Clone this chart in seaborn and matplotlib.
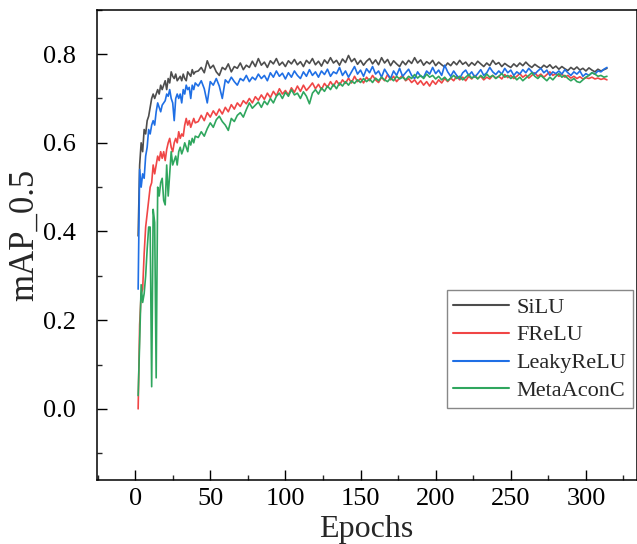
import pandas as pd
import seaborn as sns
import matplotlib
matplotlib.use("Agg")
import matplotlib.pyplot as plt
from matplotlib.ticker import MultipleLocator

# --- DONNEES ---
epochs = list(range(2, 41)) + list(range(42, 315, 2))

silu = [
    0.39, 0.55, 0.60, 0.58, 0.63, 0.62, 0.65, 0.66, 0.68, 0.70,
    0.71, 0.70, 0.71, 0.72, 0.71, 0.73, 0.72, 0.73, 0.74, 0.72,
    0.745, 0.735, 0.76, 0.75, 0.745, 0.755, 0.74, 0.745, 0.75, 0.74,
    0.755, 0.745, 0.74, 0.76, 0.755, 0.75, 0.765, 0.755, 0.76,
    0.762, 0.770, 0.758, 0.785, 0.768, 0.775, 0.760, 0.752, 0.770, 0.765,
    0.778, 0.760, 0.772, 0.768, 0.780, 0.765, 0.775, 0.770, 0.784, 0.772,
    0.790, 0.775, 0.782, 0.770, 0.785, 0.778, 0.790, 0.775, 0.782, 0.772,
    0.785, 0.778, 0.788, 0.776, 0.783, 0.772, 0.786, 0.779, 0.790, 0.776,
    0.784, 0.773, 0.787, 0.779, 0.792, 0.780, 0.786, 0.775, 0.789, 0.781,
    0.797, 0.783, 0.790, 0.777, 0.786, 0.775, 0.784, 0.790, 0.778, 0.787,
    0.776, 0.792, 0.780, 0.788, 0.774, 0.785, 0.778, 0.772, 0.784, 0.776,
    0.786, 0.779, 0.792, 0.780, 0.787, 0.775, 0.783, 0.778, 0.786, 0.774,
    0.782, 0.776, 0.771, 0.780, 0.774, 0.783, 0.776, 0.786, 0.777, 0.782,
    0.773, 0.781, 0.775, 0.784, 0.778, 0.772, 0.780, 0.774, 0.786, 0.777,
    0.781, 0.772, 0.779, 0.774, 0.770, 0.778, 0.772, 0.780, 0.774, 0.782,
    0.775, 0.770, 0.777, 0.772, 0.768, 0.775, 0.770, 0.776, 0.768, 0.773,
    0.766, 0.772, 0.767, 0.763, 0.770, 0.765, 0.771, 0.764, 0.768, 0.762,
    0.769, 0.764, 0.760, 0.766, 0.762, 0.765, 0.768,
]

frelu = [
    0.00, 0.19, 0.26, 0.27, 0.35, 0.41, 0.44, 0.47, 0.50, 0.51,
    0.55, 0.53, 0.55, 0.57, 0.56, 0.58, 0.565, 0.58, 0.56, 0.585,
    0.60, 0.61, 0.59, 0.58, 0.60, 0.61, 0.60, 0.625, 0.61, 0.62,
    0.615, 0.64, 0.655, 0.64, 0.65, 0.635, 0.645, 0.655, 0.645,
    0.648, 0.662, 0.650, 0.668, 0.658, 0.672, 0.662, 0.676, 0.665, 0.680,
    0.670, 0.686, 0.676, 0.690, 0.682, 0.695, 0.688, 0.700, 0.690, 0.704,
    0.696, 0.708, 0.698, 0.712, 0.702, 0.716, 0.706, 0.722, 0.710, 0.718,
    0.708, 0.724, 0.714, 0.728, 0.716, 0.730, 0.718, 0.726, 0.735, 0.722,
    0.732, 0.720, 0.734, 0.725, 0.738, 0.728, 0.740, 0.730, 0.742, 0.734,
    0.746, 0.735, 0.750, 0.738, 0.745, 0.735, 0.748, 0.740, 0.752, 0.742,
    0.736, 0.748, 0.740, 0.754, 0.742, 0.750, 0.738, 0.746, 0.752, 0.740,
    0.745, 0.736, 0.742, 0.732, 0.740, 0.730, 0.738, 0.728, 0.740, 0.732,
    0.742, 0.735, 0.745, 0.738, 0.746, 0.740, 0.750, 0.742, 0.748, 0.740,
    0.750, 0.744, 0.752, 0.745, 0.750, 0.742, 0.748, 0.744, 0.752, 0.746,
    0.750, 0.744, 0.754, 0.747, 0.752, 0.745, 0.750, 0.756, 0.748, 0.753,
    0.746, 0.752, 0.758, 0.750, 0.755, 0.748, 0.754, 0.760, 0.752, 0.756,
    0.750, 0.755, 0.748, 0.752, 0.746, 0.750, 0.745, 0.749, 0.744, 0.747,
    0.745, 0.748, 0.744, 0.746, 0.743, 0.745, 0.742,
]

leaky = [
    0.27, 0.54, 0.50, 0.53, 0.52, 0.57, 0.59, 0.63, 0.62, 0.64,
    0.65, 0.64, 0.67, 0.69, 0.68, 0.67, 0.685, 0.69, 0.695, 0.71,
    0.705, 0.72, 0.70, 0.69, 0.65, 0.70, 0.71, 0.70, 0.71, 0.69,
    0.72, 0.71, 0.73, 0.72, 0.725, 0.70, 0.73, 0.72, 0.735,
    0.728, 0.740, 0.722, 0.690, 0.738, 0.730, 0.745, 0.728, 0.700, 0.742,
    0.735, 0.748, 0.738, 0.730, 0.745, 0.740, 0.752, 0.738, 0.748, 0.742,
    0.755, 0.745, 0.752, 0.740, 0.758, 0.748, 0.762, 0.750, 0.757, 0.744,
    0.758, 0.748, 0.762, 0.752, 0.745, 0.760, 0.750, 0.765, 0.752, 0.760,
    0.748, 0.762, 0.754, 0.766, 0.750, 0.760, 0.756, 0.770, 0.752, 0.762,
    0.748, 0.760, 0.772, 0.755, 0.764, 0.750, 0.767, 0.758, 0.772, 0.755,
    0.762, 0.748, 0.766, 0.755, 0.745, 0.762, 0.752, 0.768, 0.750, 0.758,
    0.766, 0.752, 0.745, 0.760, 0.750, 0.748, 0.762, 0.755, 0.770, 0.756,
    0.764, 0.752, 0.775, 0.760, 0.750, 0.762, 0.752, 0.745, 0.758, 0.764,
    0.752, 0.760, 0.748, 0.756, 0.765, 0.752, 0.758, 0.770, 0.760, 0.754,
    0.762, 0.755, 0.768, 0.758, 0.764, 0.752, 0.760, 0.755, 0.765, 0.758,
    0.768, 0.760, 0.755, 0.762, 0.768, 0.758, 0.764, 0.752, 0.760, 0.756,
    0.762, 0.755, 0.765, 0.758, 0.752, 0.760, 0.755, 0.762, 0.750, 0.756,
    0.752, 0.758, 0.755, 0.762, 0.760, 0.766, 0.770,
]

metaacon = [
    0.03, 0.15, 0.28, 0.24, 0.26, 0.30, 0.36, 0.41, 0.41, 0.05,
    0.45, 0.42, 0.07, 0.50, 0.48, 0.51, 0.52, 0.47, 0.46, 0.55,
    0.48, 0.53, 0.58, 0.55, 0.56, 0.57, 0.55, 0.58, 0.59, 0.575,
    0.585, 0.60, 0.59, 0.58, 0.605, 0.595, 0.61, 0.60, 0.615,
    0.612, 0.625, 0.615, 0.632, 0.645, 0.635, 0.652, 0.660, 0.648, 0.640,
    0.628, 0.655, 0.648, 0.662, 0.668, 0.658, 0.675, 0.690, 0.678, 0.685,
    0.692, 0.680, 0.694, 0.686, 0.700, 0.690, 0.705, 0.712, 0.700, 0.714,
    0.705, 0.720, 0.708, 0.712, 0.700, 0.715, 0.705, 0.688, 0.712, 0.720,
    0.710, 0.724, 0.716, 0.728, 0.720, 0.732, 0.722, 0.735, 0.728, 0.738,
    0.730, 0.740, 0.734, 0.742, 0.736, 0.745, 0.738, 0.744, 0.736, 0.746,
    0.740, 0.748, 0.742, 0.738, 0.746, 0.740, 0.750, 0.744, 0.748, 0.742,
    0.750, 0.745, 0.754, 0.746, 0.752, 0.745, 0.755, 0.748, 0.752, 0.744,
    0.750, 0.742, 0.748, 0.740, 0.746, 0.752, 0.745, 0.750, 0.742, 0.748,
    0.754, 0.746, 0.750, 0.744, 0.752, 0.746, 0.755, 0.748, 0.752, 0.745,
    0.750, 0.756, 0.748, 0.752, 0.745, 0.750, 0.742, 0.748, 0.740, 0.746,
    0.752, 0.758, 0.750, 0.745, 0.752, 0.746, 0.740, 0.748, 0.742, 0.750,
    0.756, 0.748, 0.752, 0.745, 0.740, 0.745, 0.738, 0.736, 0.742, 0.748,
    0.752, 0.758, 0.755, 0.750, 0.752, 0.748, 0.750,
]

series_names = ["SiLU", "FReLU", "LeakyReLU", "MetaAconC"]
series_colors = ["#4d4d4d", "#f04646", "#1f6fe5", "#2fa65e"]

# --- STYLE ---
sns.set_theme(style="ticks")
plt.rcParams["font.family"] = ["Liberation Serif", "DejaVu Serif"]

df = pd.concat([
    pd.DataFrame({"Epochs": epochs, "mAP_0.5": vals, "Model": name})
    for name, vals in zip(series_names, [silu, frelu, leaky, metaacon])
])

fig = plt.figure(figsize=(6.37, 5.44), dpi=100)
ax = fig.add_axes([0.152, 0.118, 0.848, 0.864])

sns.lineplot(data=df, x="Epochs", y="mAP_0.5", hue="Model",
             palette=dict(zip(series_names, series_colors)),
             linewidth=1.2, ax=ax, legend=True)

ax.set_xlim(-25.5, 334)
ax.set_ylim(-0.16, 0.9)
ax.xaxis.set_major_locator(MultipleLocator(50))
ax.xaxis.set_minor_locator(MultipleLocator(25))
ax.yaxis.set_major_locator(MultipleLocator(0.2))
ax.yaxis.set_minor_locator(MultipleLocator(0.1))
ax.yaxis.set_major_formatter(plt.FuncFormatter(lambda v, p: f"{v:.1f}"))
ax.tick_params(which="major", direction="in", length=7, width=1.0, labelsize=19, colors="black")
ax.tick_params(which="minor", direction="in", length=3.5, width=1.0)
ax.tick_params(axis="x", pad=6)
ax.tick_params(axis="y", pad=15)
for sp in ax.spines.values():
    sp.set_linewidth(1.1)
    sp.set_color("black")

ax.set_xlabel("Epochs", fontsize=23)
ax.set_ylabel("mAP_0.5", fontsize=25)
ax.xaxis.set_label_coords(0.498, -0.074)
ax.yaxis.set_label_coords(-0.104, 0.52)

leg = ax.legend(loc="lower right", bbox_to_anchor=(0.993, 0.153), borderaxespad=0,
                fontsize=16, fancybox=False, edgecolor="#888888", framealpha=1,
                handlelength=2.5, handletextpad=0.35, labelspacing=0.33,
                borderpad=0.3, title=None)
for line in leg.get_lines():
    line.set_linewidth(1.5)

fig.savefig("out.png", dpi=100)
